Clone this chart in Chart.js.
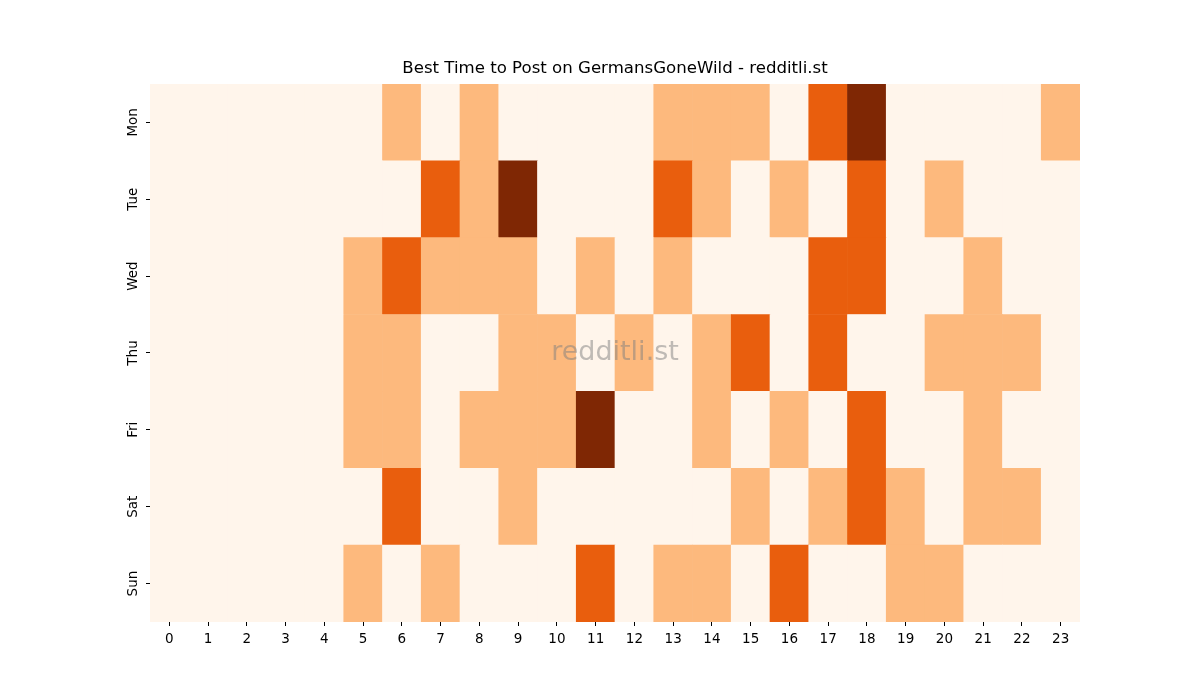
<!DOCTYPE html>
<html>
<head>
<meta charset="utf-8">
<script src="https://cdn.jsdelivr.net/npm/chart.js@4"></script>
<style>
  html, body { margin: 0; padding: 0; background: #fff; }
</style>
</head>
<body>
<canvas id="heatChart" width="1200" height="700"></canvas>
<script>
// hours on the x axis
var hours = ['0','1','2','3','4','5','6','7','8','9','10','11','12','13','14','15','16','17','18','19','20','21','22','23'];
var days = ['Mon', 'Tue', 'Wed', 'Thu', 'Fri', 'Sat', 'Sun'];

// activity level per hour (0 = none .. 3 = best)
var mon = [0,0,0,0,0,0,1,0,1,0,0,0,0,1,1,1,0,2,3,0,0,0,0,1];
var tue = [0,0,0,0,0,0,0,2,1,3,0,0,0,2,1,0,1,0,2,0,1,0,0,0];
var wed = [0,0,0,0,0,1,2,1,1,1,0,1,0,1,0,0,0,2,2,0,0,1,0,0];
var thu = [0,0,0,0,0,1,1,0,0,1,1,0,1,0,1,2,0,2,0,0,1,1,1,0];
var fri = [0,0,0,0,0,1,1,0,1,1,1,3,0,0,1,0,1,0,2,0,0,1,0,0];
var sat = [0,0,0,0,0,0,2,0,0,1,0,0,0,0,0,1,0,1,2,1,0,1,1,0];
var sun = [0,0,0,0,0,1,0,1,0,0,0,2,0,1,1,0,2,0,0,1,1,0,0,0];

var levelColors = ['#fff5eb', '#fdb97d', '#e95e0d', '#7f2704'];

// stack from the bottom: Sun first, Mon on top
var rows = [sun, sat, fri, thu, wed, tue, mon];
var rowNames = ['Sun', 'Sat', 'Fri', 'Thu', 'Wed', 'Tue', 'Mon'];

var datasets = rows.map(function (lv, i) {
    return {
        label: rowNames[i],
        data: hours.map(function () { return 1; }),
        backgroundColor: lv.map(function (v) { return levelColors[v]; }),
        borderWidth: 0,
        categoryPercentage: 1,
        barPercentage: 1
    };
});

// watermark in the middle of the plot
var watermark = {
    id: 'watermark',
    afterDatasetsDraw: function (chart) {
        var a = chart.chartArea;
        var ctx = chart.ctx;
        ctx.save();
        ctx.font = '27px "DejaVu Sans"';
        ctx.fillStyle = 'rgba(128,128,128,0.5)';
        ctx.textAlign = 'center';
        ctx.textBaseline = 'middle';
        ctx.fillText('redditli.st', (a.left + a.right) / 2, (a.top + a.bottom) / 2);
        ctx.restore();
    }
};

var ctx = document.getElementById('heatChart').getContext('2d');
var heatChart = new Chart(ctx, {
    type: 'bar',
    data: { labels: hours, datasets: datasets },
    plugins: [watermark],
    options: {
        responsive: false,
        animation: false,
        devicePixelRatio: 1,
        layout: { padding: { left: 100, right: 120, top: 49, bottom: 30 } },
        plugins: {
            legend: { display: false },
            tooltip: { enabled: false },
            title: {
                display: true,
                fullSize: false,
                text: 'Best Time to Post on GermansGoneWild - redditli.st',
                color: '#000',
                font: { family: 'DejaVu Sans', size: 16.6, weight: 'normal' },
                padding: { top: 10, bottom: 5 }
            }
        },
        scales: {
            x: {
                stacked: true,
                border: { display: false },
                grid: { drawOnChartArea: false, drawTicks: true, offset: false, tickLength: 4, color: '#000' },
                ticks: { color: '#000', font: { family: 'DejaVu Sans', size: 13.5 }, padding: 5, maxRotation: 0 },
                afterFit: function (s) { s.height = 48; }
            },
            y: {
                stacked: true,
                min: 0,
                max: 7,
                border: { display: false },
                grid: { drawOnChartArea: false, drawTicks: true, tickLength: 4, color: '#000' },
                afterBuildTicks: function (s) {
                    s.ticks = rowNames.map(function (n, i) { return { value: i + 0.5 }; });
                },
                ticks: {
                    color: '#000',
                    font: { family: 'DejaVu Sans', size: 13.5 },
                    minRotation: 90,
                    maxRotation: 90,
                    crossAlign: 'center',
                    padding: -2,
                    callback: function (v) { return rowNames[Math.floor(v)]; }
                },
                afterFit: function (s) { s.width = 50; }
            }
        }
    }
});
</script>
</body>
</html>
